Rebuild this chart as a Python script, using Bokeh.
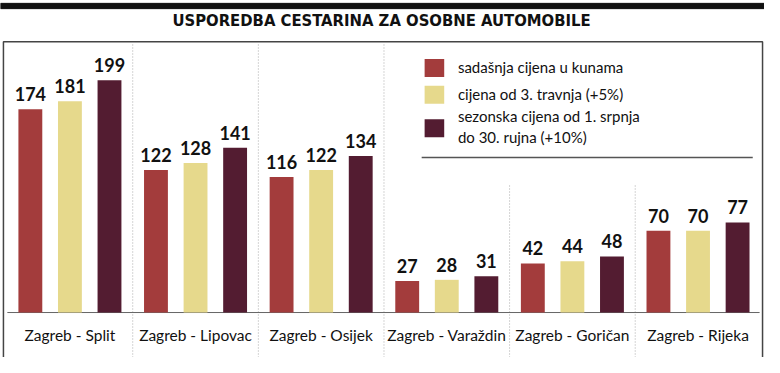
from bokeh.plotting import figure
from bokeh.models import Range1d, ColumnDataSource
from bokeh.core.properties import value
from bokeh.embed import file_html
from bokeh.resources import INLINE

# ---- data ----
routes = ["Zagreb - Split", "Zagreb - Lipovac", "Zagreb - Osijek",
          "Zagreb - Varaždin", "Zagreb - Goričan", "Zagreb - Rijeka"]
current = [174, 122, 116, 27, 42, 70]
april = [181, 128, 122, 28, 44, 70]
seasonal = [199, 141, 134, 31, 48, 77]
series_labels = ["sadašnja cijena u kunama",
                 "cijena od 3. travnja (+5%)",
                 "sezonska cijena od 1. srpnja\ndo 30. rujna (+10%)"]
series_colors = ["#a33c3c", "#e6d98c", "#531c31"]
title_text = "USPOREDBA CESTARINA ZA OSOBNE AUTOMOBILE"

# ---- layout helpers (reference-pixel layout -> plot coordinates) ----
W, H = 764, 357
PX_PER_UNIT = 1.22
BASE = 326.0
G0, GW = 6.75, 128.25


def rx(x):
    return (x - G0) / GW


def ry(y):
    return (BASE - y) / PX_PER_UNIT


p = figure(width=W, height=H, output_backend="svg", toolbar_location=None,
           x_range=Range1d(rx(0), rx(780)), y_range=Range1d(ry(373), ry(0)),
           x_axis_type=None, y_axis_type=None, min_border=0)
p.grid.visible = False
p.outline_line_color = None
p.background_fill_color = "white"
p.border_fill_color = "white"

# top thick rule and title
p.quad(left=[rx(0)], right=[rx(780)], bottom=[ry(8.5)], top=[ry(3)], color="#111111")
p.text(x=[rx(389)], y=[ry(21)], text=[title_text],
       text_font=value("Liberation Sans Narrow, DejaVu Sans Condensed"),
       text_font_style="bold", text_font_size="16.5px", text_align="center",
       text_baseline="middle", text_color="#111111")

# frame box
p.multi_line(xs=[[rx(3), rx(3), rx(778), rx(778)]],
             ys=[[ry(373), ry(43), ry(43), ry(373)]],
             line_color="#444444", line_width=1.5)

# group separators (dotted)
n = len(routes)
sep_x = [i for i in range(1, n)]
sep_top = [ry(45) if i < 4 else ry(193) for i in sep_x]
p.segment(x0=sep_x, x1=sep_x, y0=[ry(373)] * len(sep_x), y1=sep_top,
          line_color="#aaaaaa", line_dash="1 2", line_width=1)

# baseline
p.segment(x0=[rx(7)], x1=[rx(775)], y0=[0], y1=[0], line_color="#666666", line_width=1)

# bars
offsets = [-0.315, 0.0, 0.315]
bar_w = 0.19
for vals, off, col in zip([current, april, seasonal], offsets, series_colors):
    xs = [i + 0.5 + off for i in range(n)]
    src = ColumnDataSource(dict(x=xs, top=vals, lab=[str(v) for v in vals],
                                ly=[v + 7.0 for v in vals]))
    p.vbar(x="x", top="top", bottom=0, width=bar_w, source=src,
           fill_color=col, line_color=None)
    p.text(x="x", y="ly", text="lab", source=src, text_font=value("Lato"),
           text_font_style="bold", text_font_size="18px", text_align="center",
           text_baseline="bottom", text_color="#111111")

# route labels
p.text(x=[i + 0.5 for i in range(n)], y=[ry(350)] * n, text=routes,
       text_font=value("Lato"), text_font_size="15.5px", text_align="center",
       text_baseline="middle", text_color="#111111")

# legend
sq_top = [61, 89, 124]
txt_y = [70, 98, 132]
p.quad(left=[rx(433)] * 3, right=[rx(453)] * 3,
       top=[ry(t) for t in sq_top], bottom=[ry(t + 19) for t in sq_top],
       fill_color=series_colors, line_color=None)
p.text(x=[rx(467)] * 3, y=[ry(t) for t in txt_y], text=series_labels,
       text_font=value("Lato"), text_font_size="15px", text_align="left",
       text_baseline="middle", text_color="#111111", text_line_height=1.15)
p.segment(x0=[rx(430)], x1=[rx(768)], y0=[ry(164)], y1=[ry(164)],
          line_color="#555555", line_width=1.5)

open("out.html", "w").write(file_html(p, INLINE))
